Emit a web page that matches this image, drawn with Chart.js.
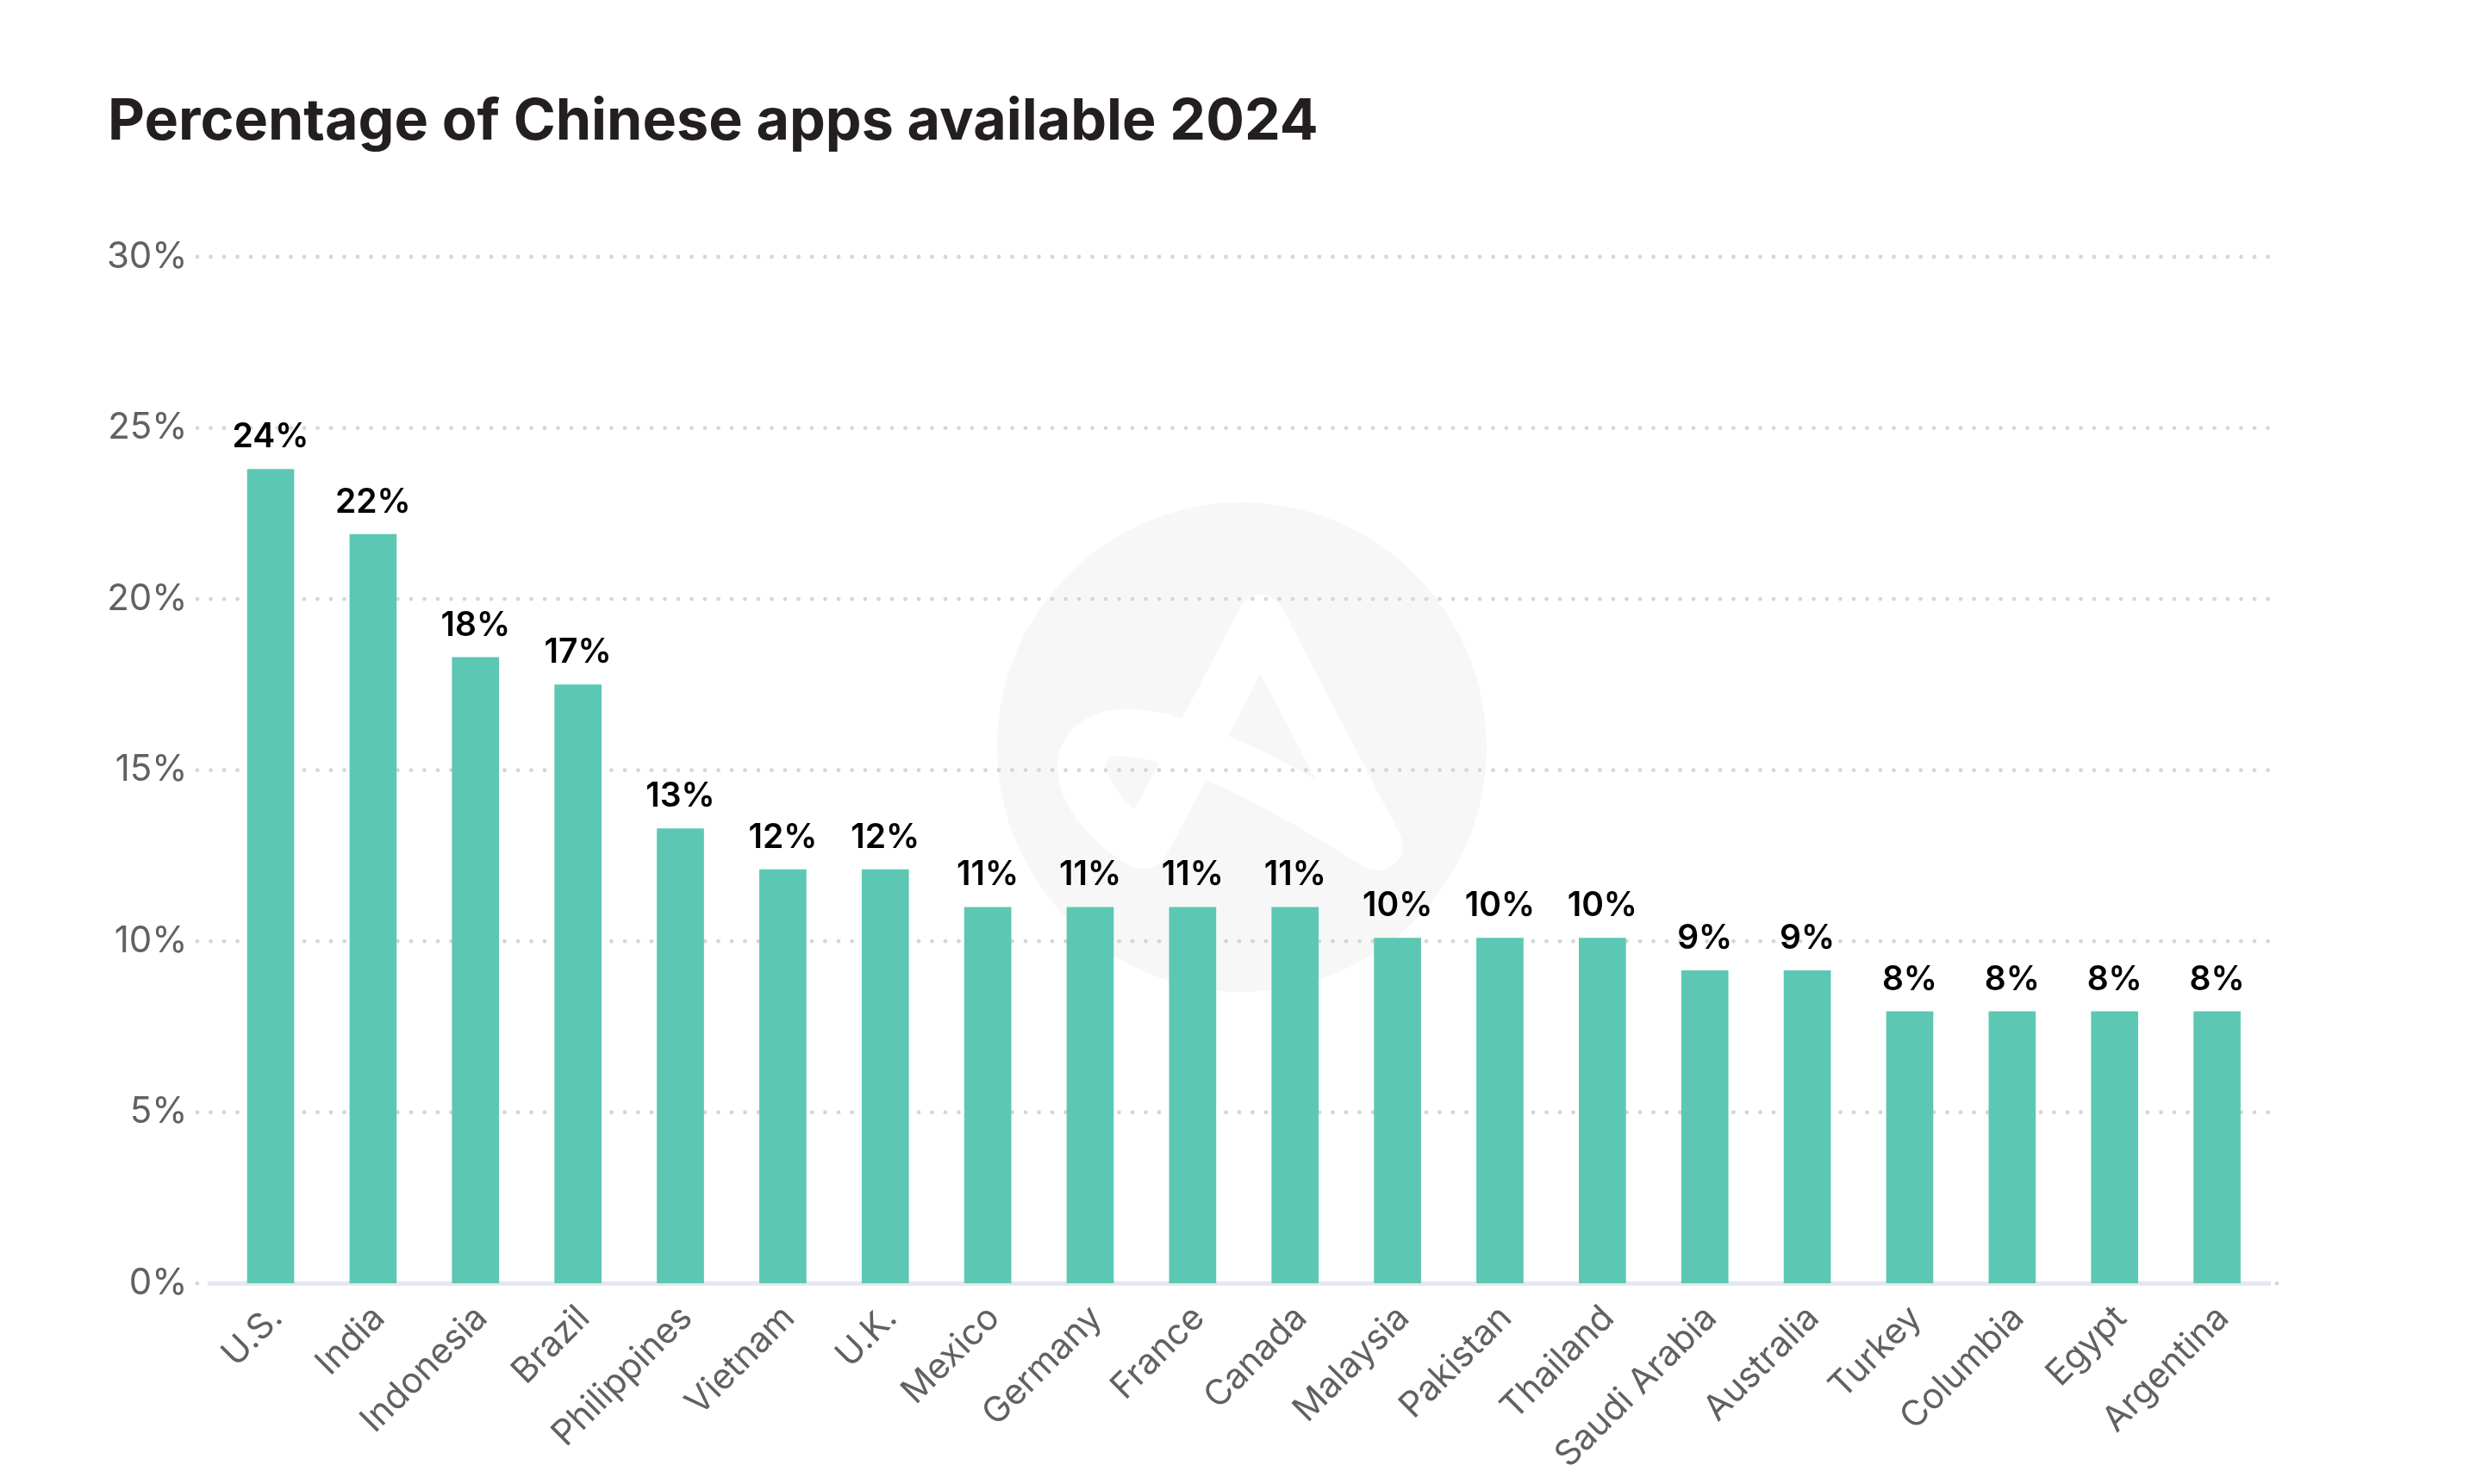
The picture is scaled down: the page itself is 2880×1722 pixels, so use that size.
<!DOCTYPE html>
<html>
<head>
<meta charset="utf-8">
<title>Percentage of Chinese apps available 2024</title>
<script src="https://cdn.jsdelivr.net/npm/chart.js@4"></script>
<style>
  html, body { margin: 0; padding: 0; background: #fff; }
  canvas { display: block; }
</style>
</head>
<body>
<canvas id="grafica" width="2880" height="1722"></canvas>
<script>
const PAISES = ['U.S.', 'India', 'Indonesia', 'Brazil', 'Philippines', 'Vietnam', 'U.K.', 'Mexico', 'Germany', 'France',
  'Canada', 'Malaysia', 'Pakistan', 'Thailand', 'Saudi Arabia', 'Australia', 'Turkey', 'Columbia', 'Egypt', 'Argentina'];
const VALORES = [23.8, 21.9, 18.3, 17.5, 13.3, 12.1, 12.1, 11, 11, 11, 11, 10.1, 10.1, 10.1, 9.15, 9.15, 7.95, 7.95, 7.95, 7.95];
const ETIQUETAS = ['24%', '22%', '18%', '17%', '13%', '12%', '12%', '11%', '11%', '11%', '11%', '10%', '10%', '10%', '9%', '9%', '8%', '8%', '8%', '8%'];
const TICKS_Y = [0, 5, 10, 15, 20, 25, 30];

const FUENTE = 'Inter, sans-serif';

// ---------------------------------------------------------------
// Marca de agua (circulo gris con la "A" blanca)
// ---------------------------------------------------------------
const marcaAgua = {
  id: 'marcaAgua',
  beforeDraw(chart) {
    const ctx = chart.ctx;
    const X = v => 1100 + v / 2.22;
    const Y = v => 550 + v / 2.45;
    const m = (x, y) => ctx.moveTo(X(x), Y(y));
    const l = (x, y) => ctx.lineTo(X(x), Y(y));
    const q = (cx, cy, x, y) => ctx.quadraticCurveTo(X(cx), Y(cy), X(x), Y(y));
    const c = (a, b, d, e, x, y) => ctx.bezierCurveTo(X(a), Y(b), X(d), Y(e), X(x), Y(y));

    ctx.save();
    ctx.fillStyle = '#f7f7f7';
    ctx.beginPath();
    ctx.arc(1441, 867, 284, 0, Math.PI * 2);
    ctx.fill();

    // contorno de la A
    ctx.fillStyle = '#ffffff';
    ctx.beginPath();
    m(755, 375);
    q(805, 310, 858, 375);
    l(1162, 1020);
    q(1190, 1090, 1130, 1122);
    q(1100, 1135, 1065, 1112);
    c(930, 1020, 800, 935, 665, 870);
    l(562, 1085);
    q(530, 1140, 470, 1115);
    c(340, 1030, 282, 920, 282, 830);
    c(285, 720, 370, 668, 460, 668);
    q(540, 670, 603, 695);
    ctx.closePath();
    ctx.fill();

    // huecos de la A
    ctx.fillStyle = '#f7f7f7';
    ctx.beginPath();
    m(805, 568);
    l(948, 870);
    c(870, 820, 800, 780, 722, 745);
    ctx.closePath();
    m(545, 822);
    q(490, 802, 440, 802);
    q(405, 805, 407, 835);
    q(420, 895, 480, 953);
    ctx.closePath();
    ctx.fill();
    ctx.restore();
  }
};

// ---------------------------------------------------------------
// Rejilla punteada y linea base, un poco mas anchas que el area
// ---------------------------------------------------------------
const rejilla = {
  id: 'rejilla',
  beforeDatasetsDraw(chart) {
    const ctx = chart.ctx;
    const esc = chart.scales.y;
    ctx.save();
    ctx.fillStyle = '#d6d6d6';
    esc.ticks.forEach(t => {
      if (t.value === 0) return;
      const y = esc.getPixelForValue(t.value);
      for (let x = 229; x <= 2643; x += 15.5) {
        ctx.beginPath();
        ctx.arc(x, y, 2.4, 0, Math.PI * 2);
        ctx.fill();
      }
    });
    const y0 = esc.getPixelForValue(0);
    ctx.beginPath();
    ctx.arc(229, y0, 2.4, 0, Math.PI * 2);
    ctx.arc(2642, y0, 2.4, 0, Math.PI * 2);
    ctx.fill();
    ctx.fillStyle = '#e4e7f1';
    ctx.fillRect(241, y0 - 2.5, 2394, 5);
    ctx.restore();
  }
};

// ---------------------------------------------------------------
// Etiquetas encima de cada barra
// ---------------------------------------------------------------
const etiquetasBarras = {
  id: 'etiquetasBarras',
  afterDatasetsDraw(chart) {
    const ctx = chart.ctx;
    ctx.save();
    ctx.font = '600 39px ' + FUENTE;
    ctx.fillStyle = '#000000';
    ctx.textAlign = 'center';
    ctx.textBaseline = 'alphabetic';
    chart.getDatasetMeta(0).data.forEach((barra, i) => {
      ctx.fillText(ETIQUETAS[i], barra.x, barra.y - 25);
    });
    ctx.restore();
  }
};

new Chart(document.getElementById('grafica'), {
  type: 'bar',
  data: {
    labels: PAISES,
    datasets: [{
      data: VALORES,
      backgroundColor: '#5cc8b3',
      borderWidth: 0,
      barPercentage: 0.46,
      categoryPercentage: 1
    }]
  },
  plugins: [marcaAgua, rejilla, etiquetasBarras],
  options: {
    responsive: false,
    animation: false,
    devicePixelRatio: 1,
    layout: { padding: { left: 125, right: 248, top: 0, bottom: 0 } },
    plugins: {
      legend: { display: false },
      tooltip: { enabled: false },
      title: {
        display: true,
        text: 'Percentage of Chinese apps available 2024',
        align: 'start',
        color: '#231f20',
        font: { family: FUENTE, size: 66.4, weight: '700', lineHeight: 1.2 },
        padding: { top: 102, bottom: 116.3 }
      }
    },
    scales: {
      x: {
        grid: { display: false, drawTicks: false },
        border: { display: false },
        afterFit: s => { s.height = 232.7; },
        ticks: {
          autoSkip: false,
          minRotation: 45,
          maxRotation: 45,
          padding: 16,
          labelOffset: 7,
          color: '#616161',
          font: { family: FUENTE, size: 41 }
        }
      },
      y: {
        min: 0,
        max: 30,
        afterBuildTicks: s => { s.ticks = TICKS_Y.map(v => ({ value: v })); },
        afterFit: s => { s.width = 129.6; },
        grid: { display: false, drawTicks: false },
        border: { display: false },
        ticks: {
          padding: 37,
          color: '#616161',
          font: { family: FUENTE, size: 42 },
          callback: v => v + '%'
        }
      }
    }
  }
});
</script>
</body>
</html>
